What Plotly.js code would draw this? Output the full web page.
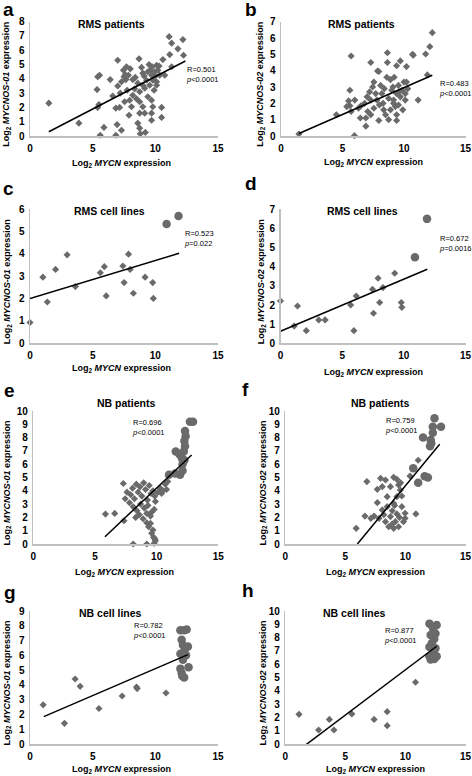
<!DOCTYPE html>
<html><head><meta charset="utf-8">
<script src="https://cdn.plot.ly/plotly-3.0.1.min.js"></script>
<style>html,body{margin:0;padding:0;background:#fff}#chart{width:472px;height:776px}</style>
</head><body><div id="chart"></div>
<script>
// ---------- DATA ----------
// a: RMS patients, MYCNOS-01
const aX = [1.5,3.9,5.4,5.55,5.35,5.5,5.4,5.9,5.6,6.85,6.95,7.3,7.0,6.4,6.85,7.2,6.6,7.3,7.5,7.65,7.85,7.45,8.0,7.7,8.2,7.55,7.95,7.75,8.35,8.2,7.15,7.9,8.1,8.5,8.75,8.7,9.5,9.75,10.1,10.6,9.0,9.4,9.7,9.95,10.2,10.35,9.8,9.3,9.55,10.1,9.0,8.75,9.15,9.4,9.7,10.1,9.0,8.75,9.15,8.6,8.75,8.8,9.2,9.7,9.7,10.5,10.5,9.8,11.3,10.75,11.1,12.2,11.3,11.8,11.15,12.25,7.6,8.4,8.9,9.1,9.6,10.0,10.3,8.6,9.9,7.0];
const aY = [2.3,0.9,4.15,4.25,3.25,2.2,2.0,0.6,0.05,0.05,0.8,0.4,5.3,3.95,1.95,3.0,2.8,3.8,4.15,3.95,4.25,4.6,4.7,4.85,3.95,2.4,2.5,3.2,3.3,2.85,2.0,1.45,2.05,2.6,2.4,5.4,5.0,4.85,4.95,5.35,4.4,4.5,4.25,4.5,4.6,4.25,3.9,3.9,3.55,3.8,3.55,3.1,3.35,2.75,2.5,3.55,2.05,1.6,1.6,0.9,0.55,0.15,0.25,1.6,1.1,2.0,1.3,2.05,4.85,4.25,6.95,6.75,6.5,6.1,5.7,5.65,4.3,4.1,4.8,4.2,4.6,4.2,4.9,3.7,3.2,3.5];
const aFitX = [1.5, 12.4], aFitY = [0.3, 5.25];

// b: RMS patients, MYCNOS-02
const bX = [1.46,5.97,5.7,4.5,5.6,5.5,5.6,5.35,5.7,6.45,6.9,6.5,6.9,7.05,7.0,7.3,7.45,7.3,7.55,7.7,7.8,7.55,7.3,7.95,8.1,8.2,8.35,7.95,8.75,8.65,8.65,8.9,9.0,8.75,9.15,9.4,9.3,9.55,9.7,9.4,9.4,8.9,9.15,9.55,9.85,10.0,10.1,10.2,9.4,9.7,10.2,10.7,11.15,10.1,12.1,11.76,12.3,11.9,7.85,8.4,8.6,9.1,9.6,8.3,9.9,8.0,6.8,7.2,8.5,9.2,10.3,6.0,6.3,10.75];
const bY = [0.12,0.02,4.9,1.3,2.8,2.15,1.85,1.8,1.5,1.1,0.6,1.85,1.1,1.5,2.4,2.2,3.0,4.5,3.3,2.6,2.2,1.7,1.3,3.95,3.1,2.6,1.6,0.95,1.0,4.5,5.1,3.45,2.8,2.3,2.2,2.6,1.8,3.1,2.4,1.3,0.95,1.6,2.0,1.9,2.8,3.3,2.6,3.3,4.3,4.6,4.25,5.0,2.2,2.2,5.47,5.02,6.33,3.74,3.98,2.9,3.6,3.0,2.7,2.0,1.6,1.9,2.0,2.7,1.3,3.6,2.9,2.2,1.7,4.95];
const bFitX = [1.46, 12.3], bFitY = [0.15, 3.72];

// c: RMS cell lines, MYCNOS-01
const cX = [0,1.03,1.38,2.04,2.96,3.62,5.61,5.93,6.08,7.41,7.51,7.86,7.99,8.25,9.18,9.79,9.84];
const cY = [0.93,2.96,1.85,3.31,3.96,2.54,3.16,3.43,2.12,3.46,2.72,3.99,3.31,2.24,2.96,2.72,2.01];
const cCircX = [10.9, 11.85], cCircY = [5.34, 5.7];
const cFitX = [0, 11.9], cFitY = [2.0, 4.03];

// d: RMS cell lines, MYCNOS-02
const dX = [0,1.11,1.38,2.09,3.1,3.62,5.69,6.14,5.95,7.46,7.54,7.91,8.04,8.31,9.26,9.79,9.84];
const dY = [2.21,0.9,1.95,0.66,1.22,1.22,2.0,2.47,0.66,2.82,1.57,3.4,2.13,2.91,3.66,2.13,1.88];
const dCircX = [10.9, 11.88], dCircY = [4.49, 6.5];
const dFitX = [0, 11.9], dFitY = [0.63, 3.87];

// e: NB patients, MYCNOS-01
const eX = [5.85,6.6,7.3,7.6,7.45,7.8,7.9,8.05,8.2,8.35,8.5,8.65,8.8,8.95,9.1,9.25,9.4,9.55,9.7,9.85,8.1,8.4,8.7,9.0,9.3,9.6,9.9,8.6,8.9,9.2,9.5,9.8,10.1,10.3,10.5,10.7,10.9,10.4,10.8,7.35,8.3,9.2,9.35,9.5,9.7,9.6,9.75,9.9,8.1,9.2,9.8,9.85];
const eY = [2.25,2.3,4.55,3.9,3.4,3.1,3.7,4.2,3.4,4.5,3.9,4.3,3.6,4.6,4.1,3.3,4.4,3.8,4.0,3.6,2.8,2.5,3.0,2.7,2.9,2.4,3.2,2.2,1.9,2.3,2.1,2.6,3.9,4.2,4.0,4.5,4.7,3.8,4.1,1.75,2.0,1.6,1.3,1.55,1.05,0.8,0.5,0.25,0.0,0.0,0.05,0.4];
const eCircX = [12.7,12.95,12.3,12.35,12.25,12.3,12.2,11.55,11.85,12.05,12.1,12.1,11.9,11.5,11.0,12.25];
const eCircY = [9.2,9.2,8.5,8.1,7.75,7.35,6.95,6.95,6.75,6.45,6.0,5.5,5.2,5.3,5.2,6.3];
const eFitX = [5.81, 12.84], eFitY = [0.55, 6.69];

// f: NB patients, MYCNOS-02
const fX = [5.9,6.63,6.79,7.66,7.93,8.07,8.34,9.02,9.29,9.43,8.75,9.57,9.7,9.29,8.48,7.66,8.07,7.39,7.8,7.12,8.34,8.61,9.02,9.43,8.75,9.16,9.29,9.7,9.97,9.84,9.97,9.02,8.48,10.87,11.06,10.38,8.9,9.1,8.2,9.5,8.9,9.6];
const fY = [1.18,2.1,4.69,4.11,4.94,4.31,4.81,5.01,4.86,4.44,4.31,4.06,3.61,3.56,3.56,3.11,2.56,2.1,1.93,1.93,1.68,1.3,1.18,1.3,2.06,1.68,2.26,2.81,1.93,1.68,2.31,3.06,2.81,2.26,6.3,5.11,2.5,2.9,2.2,2.0,1.5,4.6];
const fCircX = [12.42,12.28,12.96,12.28,11.47,12.1,12.15,12.05,11.6,11.87,11.06,10.65];
const fCircY = [9.45,8.82,8.82,8.37,8.0,7.82,7.57,7.35,5.1,5.0,4.6,5.7];
const fFitX = [6.0, 12.85], fFitY = [0, 7.5];

// g: NB cell lines, MYCNOS-01
const gX = [1.05,2.75,3.6,4.0,5.5,7.35,8.5,8.55,10.85];
const gY = [2.65,1.4,4.4,3.9,2.4,3.25,3.85,3.75,3.45];
const gCircX = [12.0,12.5,12.3,12.1,12.2,12.6,12.35,12.0,12.45,12.65,12.0,12.1,12.15,12.3,12.2];
const gCircY = [7.7,7.75,7.7,7.05,6.7,6.6,6.4,6.1,6.0,5.2,5.1,4.8,4.6,4.5,5.7];
const gFitX = [1.1, 12.6], gFitY = [1.85, 6.05];

// h: NB cell lines, MYCNOS-02
const hX = [1.14,2.77,3.67,4.05,5.54,7.39,8.48,8.48,10.84];
const hY = [2.23,1.05,1.85,1.05,2.26,1.85,2.43,1.38,4.64];
const hCircX = [12.0,12.6,12.3,12.5,12.1,12.4,12.2,12.0,12.5,12.3,12.0,12.4,12.1,12.6];
const hCircY = [9.05,8.95,8.7,8.3,8.2,7.9,7.6,7.3,7.2,6.95,6.6,6.4,6.35,6.6];
const hFitX = [1.14, 12.6], hFitY = [-0.45, 7.35];

const letters = ['a','b','c','d','e','f','g','h'];
const titles = ['RMS patients','RMS patients','RMS cell lines','RMS cell lines','NB patients','NB patients','NB cell lines','NB cell lines'];
const yGenes = ['MYCNOS-01','MYCNOS-02','MYCNOS-01','MYCNOS-02','MYCNOS-01','MYCNOS-02','MYCNOS-01','MYCNOS-02'];
const rTexts = ['R=0.501','R=0.483','R=0.523','R=0.672','R=0.696','R=0.759','R=0.782','R=0.877'];
const pTexts = ['<i>p</i>&lt;0.0001','<i>p</i>&lt;0.0001','<i>p</i>=0.022','<i>p</i>=0.0016','<i>p</i>&lt;0.0001','<i>p</i>&lt;0.0001','<i>p</i>&lt;0.0001','<i>p</i>&lt;0.0001'];
const yMax = [8,7,6,7,10,10,9,10];

// ---------- LAYOUT (pixel geometry) ----------
const W = 472, H = 776;
const px = v => v / W, py = v => 1 - v / H;
// [left, right, top, bottom] of plot area in px
const boxes = [
  [30,218,21.7,136],[281,465.5,21.7,136],
  [30,218,209.3,343.3],[280.5,465.5,209.3,343.3],
  [33.3,218.3,411,544],[285.3,465.5,411,544],
  [30,218,611,744],[285.3,465.5,611,744]
];
// letter baseline positions
const letterPos = [[1,17],[243,17],[1,197],[243,191],[2,398],[240,397],[2,600],[240,598]];
const titlePos = [[111,24],[361,24],[109,211],[362,211],[126,403],[380,403],[110,613],[354,613]];
const rPos = [[184,68],[437,82],[182,232],[437,237],[130,421],[383,419],[131,624],[382,629]];
const xTitleX = [122,373,122,373,124,375,122,375];
const xTitleY = [163,162,368,372,572,572,769.5,769.5];
const yTitleX = [7,261,7,261,7,263,7,263];

const series = [
  {d:[aX,aY], c:null, f:[aFitX,aFitY]},
  {d:[bX,bY], c:null, f:[bFitX,bFitY]},
  {d:[cX,cY], c:[cCircX,cCircY], f:[cFitX,cFitY]},
  {d:[dX,dY], c:[dCircX,dCircY], f:[dFitX,dFitY]},
  {d:[eX,eY], c:[eCircX,eCircY], f:[eFitX,eFitY]},
  {d:[fX,fY], c:[fCircX,fCircY], f:[fFitX,fFitY]},
  {d:[gX,gY], c:[gCircX,gCircY], f:[gFitX,gFitY]},
  {d:[hX,hY], c:[hCircX,hCircY], f:[hFitX,hFitY]}
];

const FONT = 'Liberation Sans, Arial, sans-serif';
const MCOL = '#6a6a6a';
const traces = [];
const layout = {
  width: W, height: H, margin: {l:0,r:0,t:0,b:0},
  paper_bgcolor: '#fff', plot_bgcolor: 'rgba(0,0,0,0)',
  showlegend: false, annotations: [],
  font: {family: FONT, color: '#000'}
};

series.forEach((s, i) => {
  const n = i + 1;
  const xa = n === 1 ? 'x' : 'x' + n, ya = n === 1 ? 'y' : 'y' + n;
  const xk = n === 1 ? 'xaxis' : 'xaxis' + n, yk = n === 1 ? 'yaxis' : 'yaxis' + n;
  const [l, r, t, b] = boxes[i];
  const axCommon = {
    showline: true, linecolor: '#c0c0c0', linewidth: 1.5,
    showgrid: false, zeroline: false, ticks: '',
    tickfont: {family: FONT, size: 10, color: '#000', weight: 'bold'},
    fixedrange: true, ticklabelstandoff: 2
  };
  layout[xk] = Object.assign({}, axCommon, {domain: [px(l), px(r)], range: [0, 15], dtick: 5, tick0: 0, anchor: ya});
  layout[yk] = Object.assign({}, axCommon, {domain: [py(b), py(t)], range: [0, yMax[i]], dtick: 1, tick0: 0, anchor: xa});

  traces.push({x: s.d[0], y: s.d[1], xaxis: xa, yaxis: ya, mode: 'markers', type: 'scatter',
    marker: {symbol: 'diamond', size: 5.5, color: MCOL}, cliponaxis: false, hoverinfo: 'skip'});
  if (s.c) traces.push({x: s.c[0], y: s.c[1], xaxis: xa, yaxis: ya, mode: 'markers', type: 'scatter',
    marker: {symbol: 'circle', size: 8.5, color: MCOL}, cliponaxis: false, hoverinfo: 'skip'});
  traces.push({x: s.f[0], y: s.f[1], xaxis: xa, yaxis: ya, mode: 'lines', type: 'scatter',
    line: {color: '#000', width: 1.5}, hoverinfo: 'skip'});

  const A = layout.annotations;
  A.push({text: '<b>' + letters[i] + '</b>', xref: 'paper', yref: 'paper', x: px(letterPos[i][0]), y: py(letterPos[i][1] + 4.5),
    xanchor: 'left', yanchor: 'bottom', showarrow: false, font: {family: FONT, size: 19, color: '#000'}});
  A.push({text: '<b>' + titles[i] + '</b>', xref: 'paper', yref: 'paper', x: px(titlePos[i][0]), y: py(titlePos[i][1]),
    xanchor: 'center', yanchor: 'middle', showarrow: false, font: {family: FONT, size: 10.5, color: '#000'}});
  A.push({text: rTexts[i] + '<br>' + pTexts[i], xref: 'paper', yref: 'paper', x: px(rPos[i][0]), y: py(rPos[i][1] - 5),
    xanchor: 'left', yanchor: 'top', align: 'left', showarrow: false, font: {family: FONT, size: 7.5, color: '#000'}});
  A.push({text: '<b>Log<sub>2</sub> <i>MYCN</i> expression</b>', xref: 'paper', yref: 'paper', x: px(xTitleX[i]), y: py(xTitleY[i]),
    xanchor: 'center', yanchor: 'middle', showarrow: false, font: {family: FONT, size: 9, color: '#000'}});
  A.push({text: '<b>Log<sub>2</sub> <i>' + yGenes[i] + '</i> expression</b>', xref: 'paper', yref: 'paper', x: px(yTitleX[i]), y: py((t + b) / 2 + 6),
    xanchor: 'center', yanchor: 'middle', textangle: -90, showarrow: false, font: {family: FONT, size: 9, color: '#000'}});
});

Plotly.newPlot('chart', traces, layout, {staticPlot: true, displayModeBar: false});
</script>
</body></html>
